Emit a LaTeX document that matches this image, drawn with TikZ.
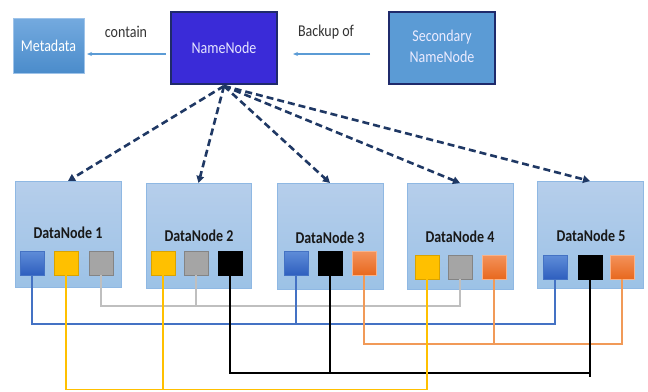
\documentclass[tikz,border=0pt]{standalone}
\usepackage{fontspec}
\setmainfont{Carlito}
\usetikzlibrary{arrows.meta}
\definecolor{navy}{HTML}{1F3864}
\definecolor{nnfill}{HTML}{3A2BD8}
\definecolor{nnborder}{HTML}{1F2A6B}
\definecolor{secfill}{HTML}{5B9BD5}
\definecolor{metatop}{HTML}{74AADF}
\definecolor{metabot}{HTML}{4B8CCB}
\definecolor{dntop}{HTML}{B6CEEB}
\definecolor{dnbot}{HTML}{9CC2E6}
\definecolor{dnborder}{HTML}{8FB8E3}
\definecolor{bltop}{HTML}{5F8DD8}
\definecolor{blbot}{HTML}{2F5FBF}
\definecolor{ortop}{HTML}{F4925A}
\definecolor{orbot}{HTML}{E8681E}
\definecolor{yel}{HTML}{FFC000}
\definecolor{gry}{HTML}{A5A5A5}
\definecolor{lblue}{HTML}{4472C4}
\definecolor{lgray}{HTML}{BFBFBF}
\definecolor{lorange}{HTML}{F19A58}
\definecolor{arrblue}{HTML}{5B9BD5}
\definecolor{txt}{HTML}{333333}
\newcommand{\vstretch}[1]{\scalebox{1}[1.18]{#1}}
\begin{document}
\begin{tikzpicture}[x=1pt,y=-1pt,
  every node/.style={inner sep=0pt, outer sep=0pt},
  box/.style={anchor=north west, line width=1pt},
  dnbox/.style={box, draw=dnborder, top color=dntop, bottom color=dnbot, minimum width=106pt, minimum height=106pt},
  dnlabel/.style={font=\fontsize{14}{16}\selectfont\bfseries, text=black!90},
  blk/.style={anchor=north west, minimum width=24pt, minimum height=24pt, line width=0.8pt},
  bblk/.style={blk, draw=lblue, top color=bltop, bottom color=blbot},
  yblk/.style={blk, draw=yel!85!black, fill=yel},
  gblk/.style={blk, draw=gry!80!black, fill=gry},
  kblk/.style={blk, draw=black, fill=black},
  oblk/.style={blk, draw=ortop!70!white, top color=ortop, bottom color=orbot},
  dasharrow/.style={draw=navy, line width=2.6pt, dash pattern=on 7pt off 4pt, -{Triangle[length=7pt,width=7.5pt]}},
  toparrow/.style={draw=arrblue, line width=1.2pt, -{Stealth[length=5pt,width=4pt]}},
  bus/.style={line width=1.4pt},
  plain/.style={font=\fontsize{14}{16}\selectfont}
]
\useasboundingbox (0,0) rectangle (648,391);

% top row
\node[box, draw=metatop!70!white, top color=metatop, bottom color=metabot, minimum width=71pt, minimum height=55pt] (meta) at (13,18) {};
\node[plain, text=white] (metat) at (meta.center) {\vstretch{Metadata}};
\node[box, draw=nnborder, fill=nnfill, minimum width=106pt, minimum height=72pt, line width=1.2pt] (nn) at (171,12) {};
\node[plain, text=white!90!blue] (nnt) at (nn.center) {\vstretch{NameNode}};
\node[box, draw=nnborder, fill=secfill, minimum width=106pt, minimum height=72pt, line width=1.2pt] (sec) at (389,12) {};
\node[plain, text=white!92!blue] (sect) at (sec.center) {\vstretch{\fontsize{14}{17}\selectfont\begin{tabular}{@{}c@{}}Secondary\\NameNode\end{tabular}}};

\node[plain, text=txt] (contain) at (126,32) {\vstretch{contain}};
\node[plain, text=txt] (backup) at (326,32) {\vstretch{Backup of}};

\draw[toparrow, shorten <=5pt, shorten >=3pt] (nn.west |- 0,54) -- (meta.east |- 0,54);
\draw[toparrow, shorten <=19pt, shorten >=16pt] (sec.west |- 0,54) -- (nn.east |- 0,54);

% data nodes
\node[dnbox] (dn1) at (15,181) {};
\node[dnbox, minimum width=105pt, minimum height=105pt] (dn2) at (146,183) {};
\node[dnbox, minimum height=106pt] (dn3) at (277,183) {};
\node[dnbox, minimum height=106pt] (dn4) at (407,183) {};
\node[dnbox, minimum height=107pt] (dn5) at (537,181) {};

\node[dnlabel] (dn1t) at (68,233) {\vstretch{DataNode 1}};
\node[dnlabel] (dn2t) at (199,236) {\vstretch{DataNode 2}};
\node[dnlabel] (dn3t) at (330,238) {\vstretch{DataNode 3}};
\node[dnlabel] (dn4t) at (460,237) {\vstretch{DataNode 4}};
\node[dnlabel] (dn5t) at (591,236) {\vstretch{DataNode 5}};

% blocks
\node[bblk] (b1) at (20,251) {};
\node[yblk] (y1) at (54,251) {};
\node[gblk] (g1) at (89,251) {};
\node[yblk] (y2) at (151,251) {};
\node[gblk] (g2) at (184,251) {};
\node[kblk] (k2) at (218,251) {};
\node[bblk] (b3) at (284,251) {};
\node[kblk] (k3) at (318,251) {};
\node[oblk] (o3) at (352,251) {};
\node[yblk] (y4) at (415,255) {};
\node[gblk] (g4) at (448,255) {};
\node[oblk] (o4) at (482,255) {};
\node[bblk] (b5) at (543,255) {};
\node[kblk] (k5) at (578,255) {};
\node[oblk] (o5) at (610,255) {};

% dashed arrows
\coordinate (nnsrc) at (224,86);
\draw[dasharrow] (nnsrc) -- (dn1.north);
\draw[dasharrow] (nnsrc) -- (dn2.north);
\draw[dasharrow] (nnsrc) -- (dn3.north);
\draw[dasharrow] (nnsrc) -- (dn4.north);
\draw[dasharrow] (nnsrc) -- (dn5.north);

% buses
\draw[bus, lgray] (g1.south) -- (g1.south |- 0,306) -- (g4.south |- 0,306) -- (g4.south);
\draw[bus, lgray] (g2.south) -- (g2.south |- 0,306);
\draw[bus, lblue] (b1.south) -- (b1.south |- 0,324) -- (b5.south |- 0,324) -- (b5.south);
\draw[bus, lblue] (b3.south) -- (b3.south |- 0,324);
\draw[bus, lorange] (o3.south) -- (o3.south |- 0,344) -- (o5.south |- 0,344) -- (o5.south);
\draw[bus, lorange] (o4.south) -- (o4.south |- 0,344);
\draw[bus, black] (k2.south) -- (k2.south |- 0,373) -- (k5.south |- 0,373);
\draw[bus, black] (k5.south) -- (k5.south |- 0,377);
\draw[bus, black] (k3.south) -- (k3.south |- 0,373);
\draw[bus, yel] (y1.south) -- (y1.south |- 0,389.5) -- (y4.south |- 0,389.5) -- (y4.south);
\draw[bus, yel] (y2.south) -- (y2.south |- 0,389.5);
\end{tikzpicture}
\end{document}
